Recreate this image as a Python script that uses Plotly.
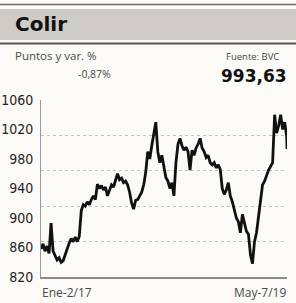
import pandas as pd
import plotly.graph_objects as go

# ---- data ----
weekly_dates = list(pd.date_range("2017-01-02", "2019-05-06", freq="7D"))
dates = weekly_dates + [pd.Timestamp("2019-05-07")]
values = [
    858, 865, 855, 862, 852, 893, 855, 848, 843, 846,
    840, 842, 850, 860, 866, 872, 868, 874, 868, 875,
    910, 918, 916, 922, 918, 925, 930, 925, 946, 940,
    944, 938, 942, 930, 937, 945, 942, 950, 960, 952,
    954, 948, 950, 945, 935, 920, 912, 924, 925, 930,
    935, 945, 962, 990, 980, 998, 1015, 1030, 990, 975,
    985, 970, 955, 950, 940, 948, 930, 975, 1000, 1008,
    998, 992, 996, 990, 965, 992, 985, 995, 1000, 1008,
    995, 990, 982, 985, 975, 972, 975, 968, 972, 966,
    940, 932, 938, 948, 930, 922, 910, 900, 895, 880,
    905, 895, 882, 878, 850, 838, 868, 880, 900, 925,
    945, 950, 958, 965, 970, 975, 1040, 1015, 1025, 1040,
    1020, 1030, 1010, 993.63,
]
y_ticks = [820, 860, 900, 940, 980, 1020, 1060]
grid_ticks = [820, 868, 916, 964, 1012, 1060]
title = "Colir"
subtitle = "Puntos y var. %"
source = "Fuente: BVC"
change = "-0,87%"
last_value = "993,63"
x_start_label = "Ene-2/17"
x_end_label = "May-7/19"

W, H = 296, 303
L, R, T, B = 41, 9, 100, 26
PW, PH = W - L - R, H - T - B


def px(xp):
    return (xp - L) / PW


def py(yp):
    return (H - B - yp) / PH


fig = go.Figure()
fig.add_trace(go.Scatter(
    x=dates, y=values, mode="lines",
    line=dict(color="#111111", width=2.8, shape="linear"),
    hoverinfo="skip", showlegend=False,
))
# invisible companion on the grid axis
fig.add_trace(go.Scatter(
    x=dates, y=values, mode="lines", yaxis="y2",
    line=dict(color="rgba(0,0,0,0)", width=0),
    hoverinfo="skip", showlegend=False,
))

bg = "#fbfaf6"
fig.update_layout(
    width=W, height=H, autosize=False,
    margin=dict(l=L, r=R, t=T, b=B, pad=0, autoexpand=False),
    paper_bgcolor=bg, plot_bgcolor=bg,
    xaxis=dict(
        range=[dates[0], dates[-1]], showgrid=False, showticklabels=False,
        ticks="", showline=True, linecolor="#8a8a8a", linewidth=2,
        zeroline=False, fixedrange=True, automargin=False,
    ),
    yaxis=dict(
        range=[820, 1060], tickvals=y_ticks,
        ticktext=[str(v) for v in y_ticks],
        showgrid=False, zeroline=False, showline=True, linecolor="#9a9a9a",
        linewidth=1, ticks="", ticklabelstandoff=4, automargin=False,
        tickfont=dict(family="DejaVu Sans Condensed, DejaVu Sans, sans-serif",
                      size=14, color="#1e1e1e"),
    ),
    yaxis2=dict(
        range=[820, 1060], overlaying="y", tickvals=grid_ticks,
        showticklabels=False, showgrid=True, gridcolor="#c4c4c4",
        griddash="dot", gridwidth=1, zeroline=False, showline=False, ticks="",
        automargin=False,
    ),
    showlegend=False,
)

# header band and rules
fig.add_shape(type="rect", xref="paper", yref="paper",
              x0=px(0), x1=px(W), y0=py(40), y1=py(9),
              fillcolor="#cfcbc6", line=dict(width=0), layer="below")
fig.add_shape(type="line", xref="paper", yref="paper",
              x0=px(0), x1=px(W), y0=py(4.5), y1=py(4.5),
              line=dict(color="#6a6a6a", width=1.5))
fig.add_shape(type="line", xref="paper", yref="paper",
              x0=px(0), x1=px(W), y0=py(43.5), y1=py(43.5),
              line=dict(color="#555555", width=2))

ann_font = "Open Sans, DejaVu Sans, sans-serif"
fig.add_annotation(text=f"<b>{title}</b>", xref="paper", yref="paper",
                   x=px(13), y=py(24), xanchor="left", yanchor="middle",
                   showarrow=False,
                   font=dict(family="DejaVu Sans, sans-serif", size=20, color="#111111"))
fig.add_annotation(text=subtitle, xref="paper", yref="paper",
                   x=px(13), y=py(55), xanchor="left", yanchor="middle",
                   showarrow=False, font=dict(family=ann_font, size=11.5, color="#4a4a4a"))
fig.add_annotation(text=source, xref="paper", yref="paper",
                   x=px(281), y=py(56), xanchor="right", yanchor="middle",
                   showarrow=False, font=dict(family=ann_font, size=9.5, color="#4a4a4a"))
fig.add_annotation(text=change, xref="paper", yref="paper",
                   x=px(113), y=py(74), xanchor="right", yanchor="middle",
                   showarrow=False, font=dict(family=ann_font, size=10.5, color="#4a4a4a"))
fig.add_annotation(text=f"<b>{last_value}</b>", xref="paper", yref="paper",
                   x=px(289), y=py(76), xanchor="right", yanchor="middle",
                   showarrow=False,
                   font=dict(family="DejaVu Sans, sans-serif", size=17, color="#111111"))
fig.add_annotation(text=x_start_label, xref="paper", yref="paper",
                   x=px(40), y=py(292), xanchor="left", yanchor="middle",
                   showarrow=False, font=dict(family=ann_font, size=12, color="#4a4a4a"))
fig.add_annotation(text=x_end_label, xref="paper", yref="paper",
                   x=px(288), y=py(292), xanchor="right", yanchor="middle",
                   showarrow=False, font=dict(family=ann_font, size=12, color="#4a4a4a"))

fig.write_html(
    "out.html",
    config={"displayModeBar": False, "responsive": False},
    post_script="document.body.style.margin='0';document.body.style.padding='0';"
                "document.body.style.overflow='hidden';",
)
